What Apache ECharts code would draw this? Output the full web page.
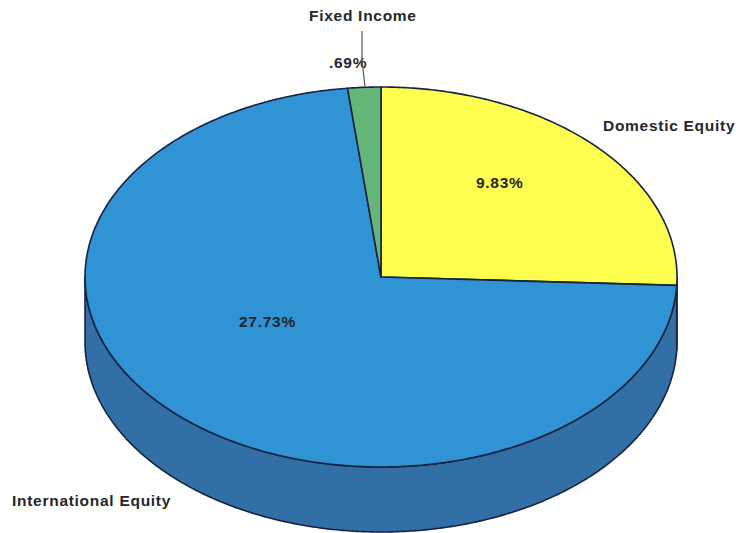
<!DOCTYPE html>
<html>
<head>
<meta charset="utf-8">
<style>
html,body{margin:0;padding:0;background:#fff}
#chart{width:736px;height:533px;letter-spacing:0.72px}
</style>
<script src="https://cdn.jsdelivr.net/npm/echarts@6/dist/echarts.min.js"></script>
</head>
<body>
<div id="chart"></div>
<script>
// Allocation by asset class, clockwise from twelve o'clock
const categories = ['Domestic Equity', 'International Equity', 'Fixed Income'];
const shares = [9.83, 27.73, 0.69];
const shareLabels = ['9.83%', '27.73%', '.69%'];
const topColors = ['#ffff50', '#2f93d4', '#67b679'];
const wallColors = ['#a8a838', '#326fa6', '#3f7a50'];
const outline = '#17233f';

// Tilted disc: the axes span a unit circle, so the plot rectangle sets the ellipse
const wallDepth = 0.342; // in y-axis units
const total = shares.reduce((a, b) => a + b, 0);

function sliceRange(i) {
  const before = shares.slice(0, i).reduce((a, b) => a + b, 0);
  return [before / total * 2 * Math.PI, (before + shares[i]) / total * 2 * Math.PI];
}
const onDisc = (t, drop) => [Math.sin(t), Math.cos(t) - (drop || 0)];

function arc(from, to, drop) {
  const steps = Math.max(2, Math.ceil(Math.abs(to - from) / 0.01));
  const out = [];
  for (let k = 0; k <= steps; k++) out.push(onDisc(from + (to - from) * k / steps, drop));
  return out;
}

// Side walls are only visible on the front half of the disc
function renderWall(params, api) {
  const [a, b] = sliceRange(params.dataIndex);
  const from = Math.max(a, Math.PI / 2), to = Math.min(b, Math.PI * 1.5);
  if (to <= from) return { type: 'group', children: [] };
  const pts = arc(from, to, 0).concat(arc(to, from, wallDepth)).map(p => api.coord(p));
  return {
    type: 'polygon',
    shape: { points: pts },
    style: { fill: wallColors[params.dataIndex], stroke: outline, lineWidth: 1.6, lineJoin: 'round' }
  };
}

function renderTop(params, api) {
  const [a, b] = sliceRange(params.dataIndex);
  const pts = [[0, 0]].concat(arc(a, b, 0)).map(p => api.coord(p));
  return {
    type: 'polygon',
    shape: { points: pts },
    style: { fill: topColors[params.dataIndex], stroke: outline, lineWidth: 1.6, lineJoin: 'round' }
  };
}

const textStyle = (text, x, y) => ({
  type: 'text', x, y, z: 20,
  style: { text, fill: '#25262c', font: 'bold 15.5px "Liberation Sans", Arial, sans-serif', textAlign: 'left', textVerticalAlign: 'middle' }
});

const chart = echarts.init(document.getElementById('chart'), null, { renderer: 'svg' });
chart.setOption({
  animation: false,
  backgroundColor: '#ffffff',
  grid: { left: 85, width: 592, top: 87, height: 380 },
  xAxis: { type: 'value', min: -1, max: 1, show: false },
  yAxis: { type: 'value', min: -1, max: 1, show: false },
  series: [
    { type: 'custom', coordinateSystem: 'cartesian2d', renderItem: renderWall, clip: false, data: shares, z: 2 },
    { type: 'custom', coordinateSystem: 'cartesian2d', renderItem: renderTop, clip: false, data: shares, z: 3 }
  ],
  graphic: [
    textStyle(categories[2], 309, 15),
    textStyle(categories[0], 603, 125),
    textStyle(categories[1], 12, 500),
    textStyle(shareLabels[0], 476, 182),
    textStyle(shareLabels[1], 239, 321),
    textStyle(shareLabels[2], 329, 62),
    { type: 'polyline', z: 20, shape: { points: [[362, 31], [362, 60], [365, 87]] },
      style: { fill: 'none', stroke: '#55575c', lineWidth: 1.2 } }
  ]
});
</script>
</body>
</html>
